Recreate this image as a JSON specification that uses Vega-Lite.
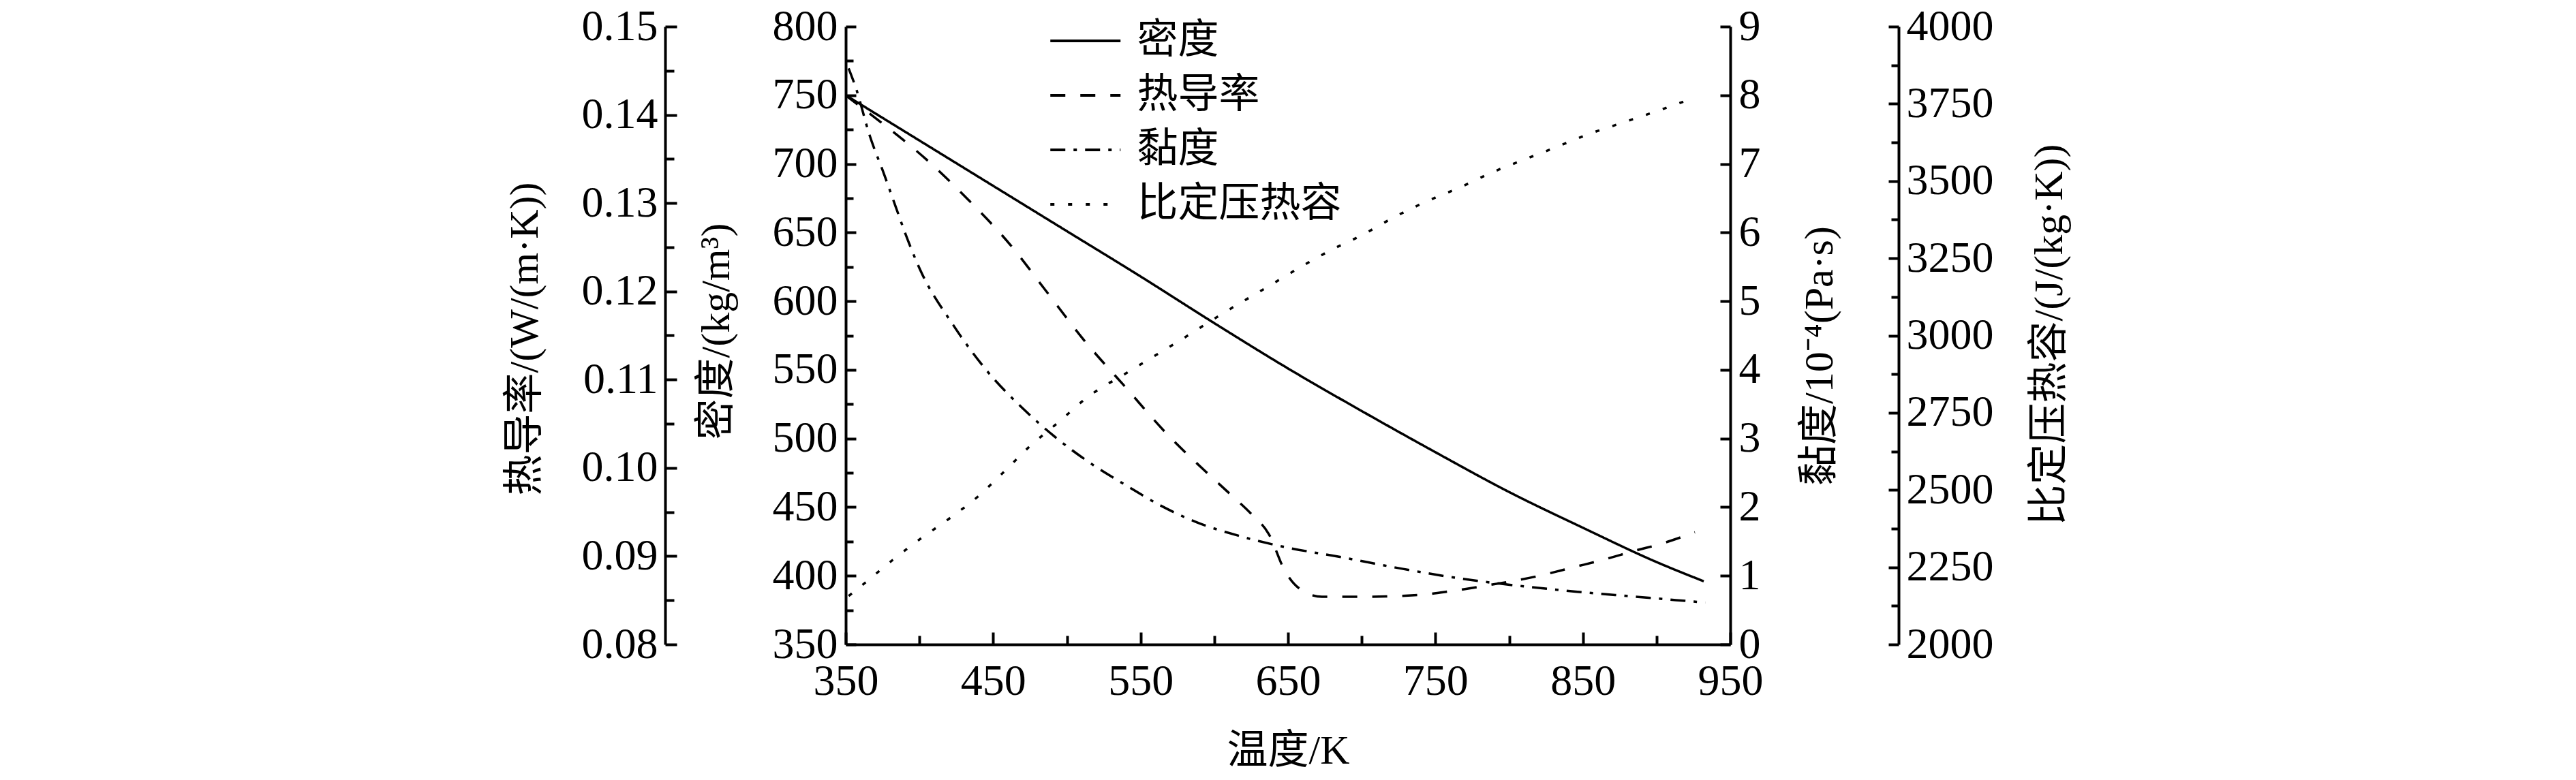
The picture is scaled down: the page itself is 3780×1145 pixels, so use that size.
{
  "$schema": "https://vega.github.io/schema/vega-lite/v6.json",
  "width": 1298,
  "height": 907,
  "autosize": {"type": "none"},
  "padding": {"left": 1241, "top": 39, "right": 1241, "bottom": 199},
  "background": "white",
  "config": {
    "view": {"stroke": null},
    "axis": {
      "grid": false,
      "domainColor": "black",
      "domainWidth": 4,
      "tickColor": "black",
      "tickWidth": 4,
      "labelFont": "Liberation Serif",
      "labelFontSize": 64,
      "labelColor": "black",
      "labelOverlap": false,
      "labelFlush": false,
      "titleFont": "Liberation Serif, Noto Sans CJK SC",
      "titleFontSize": 60,
      "titleFontWeight": "normal",
      "titleColor": "black"
    }
  },
  "data": {
    "values": [
      {"s": "密度", "T": 350, "v": 750},
      {"s": "密度", "T": 400, "v": 717},
      {"s": "密度", "T": 450, "v": 684},
      {"s": "密度", "T": 500, "v": 651},
      {"s": "密度", "T": 550, "v": 618},
      {"s": "密度", "T": 600, "v": 584},
      {"s": "密度", "T": 650, "v": 551},
      {"s": "密度", "T": 700, "v": 520},
      {"s": "密度", "T": 750, "v": 490},
      {"s": "密度", "T": 800, "v": 461},
      {"s": "密度", "T": 850, "v": 435},
      {"s": "密度", "T": 900, "v": 410},
      {"s": "密度", "T": 932, "v": 396},
      {"s": "热导率", "T": 350, "v": 0.1422},
      {"s": "热导率", "T": 372, "v": 0.1394},
      {"s": "热导率", "T": 405, "v": 0.1349},
      {"s": "热导率", "T": 433, "v": 0.1304},
      {"s": "热导率", "T": 462, "v": 0.1252},
      {"s": "热导率", "T": 487, "v": 0.1198},
      {"s": "热导率", "T": 512, "v": 0.1144},
      {"s": "热导率", "T": 540, "v": 0.1091},
      {"s": "热导率", "T": 567, "v": 0.104},
      {"s": "热导率", "T": 596, "v": 0.0993},
      {"s": "热导率", "T": 611, "v": 0.097},
      {"s": "热导率", "T": 625, "v": 0.0948},
      {"s": "热导率", "T": 637, "v": 0.0925},
      {"s": "热导率", "T": 648, "v": 0.0883},
      {"s": "热导率", "T": 658, "v": 0.0863},
      {"s": "热导率", "T": 673, "v": 0.0854},
      {"s": "热导率", "T": 699, "v": 0.0854},
      {"s": "热导率", "T": 738, "v": 0.0856},
      {"s": "热导率", "T": 759, "v": 0.086},
      {"s": "热导率", "T": 782, "v": 0.0866},
      {"s": "热导率", "T": 821, "v": 0.0878},
      {"s": "热导率", "T": 845, "v": 0.0888},
      {"s": "热导率", "T": 864, "v": 0.0896},
      {"s": "热导率", "T": 885, "v": 0.0906},
      {"s": "热导率", "T": 903, "v": 0.0914},
      {"s": "热导率", "T": 926, "v": 0.0927},
      {"s": "黏度", "T": 352, "v": 8.39},
      {"s": "黏度", "T": 357, "v": 8.1},
      {"s": "黏度", "T": 366, "v": 7.43},
      {"s": "黏度", "T": 376, "v": 6.85},
      {"s": "黏度", "T": 384, "v": 6.37},
      {"s": "黏度", "T": 390, "v": 6.01},
      {"s": "黏度", "T": 400, "v": 5.48},
      {"s": "黏度", "T": 423, "v": 4.65},
      {"s": "黏度", "T": 446, "v": 3.98},
      {"s": "黏度", "T": 470, "v": 3.44},
      {"s": "黏度", "T": 491, "v": 3.04},
      {"s": "黏度", "T": 516, "v": 2.64},
      {"s": "黏度", "T": 540, "v": 2.32},
      {"s": "黏度", "T": 563, "v": 2.03},
      {"s": "黏度", "T": 588, "v": 1.78},
      {"s": "黏度", "T": 617, "v": 1.58},
      {"s": "黏度", "T": 641, "v": 1.45},
      {"s": "黏度", "T": 689, "v": 1.26},
      {"s": "黏度", "T": 728, "v": 1.1},
      {"s": "黏度", "T": 767, "v": 0.96},
      {"s": "黏度", "T": 806, "v": 0.855},
      {"s": "黏度", "T": 845, "v": 0.77},
      {"s": "黏度", "T": 883, "v": 0.7},
      {"s": "黏度", "T": 933, "v": 0.61},
      {"s": "比定压热容", "T": 352, "v": 2157},
      {"s": "比定压热容", "T": 363, "v": 2199},
      {"s": "比定压热容", "T": 382, "v": 2274},
      {"s": "比定压热容", "T": 401, "v": 2343},
      {"s": "比定压热容", "T": 421, "v": 2410},
      {"s": "比定压热容", "T": 440, "v": 2480},
      {"s": "比定压热容", "T": 458, "v": 2562},
      {"s": "比定压热容", "T": 475, "v": 2642},
      {"s": "比定压热容", "T": 495, "v": 2722},
      {"s": "比定压热容", "T": 512, "v": 2793},
      {"s": "比定压热容", "T": 543, "v": 2886},
      {"s": "比定压热容", "T": 575, "v": 2979},
      {"s": "比定压热容", "T": 606, "v": 3072},
      {"s": "比定压热容", "T": 637, "v": 3160},
      {"s": "比定压热容", "T": 658, "v": 3220},
      {"s": "比定压热容", "T": 679, "v": 3276},
      {"s": "比定压热容", "T": 701, "v": 3327},
      {"s": "比定压热容", "T": 722, "v": 3383},
      {"s": "比定压热容", "T": 744, "v": 3434},
      {"s": "比定压热容", "T": 767, "v": 3480},
      {"s": "比定压热容", "T": 788, "v": 3527},
      {"s": "比定压热容", "T": 810, "v": 3569},
      {"s": "比定压热容", "T": 832, "v": 3610},
      {"s": "比定压热容", "T": 854, "v": 3652},
      {"s": "比定压热容", "T": 877, "v": 3689},
      {"s": "比定压热容", "T": 900, "v": 3726},
      {"s": "比定压热容", "T": 923, "v": 3765}
    ]
  },
  "encoding": {
    "x": {
      "field": "T",
      "type": "quantitative",
      "scale": {"domain": [350, 950], "nice": false, "zero": false},
      "axis": {
        "title": "温度/K",
        "values": [350, 400, 450, 500, 550, 600, 650, 700, 750, 800, 850, 900, 950],
        "labelExpr": "(datum.value - 350) % 100 === 0 ? datum.label : ''",
        "format": "d",
        "tickSize": {"condition": {"test": "(datum.value - 350) % 100 === 0", "value": -18}, "value": -13},
        "labelPadding": 40,
        "titleX": 649,
        "titleY": 156,
        "titleBaseline": "middle",
        "titleAnchor": "middle",
        "titleAlign": "center"
      }
    },
    "strokeDash": {
      "field": "s",
      "type": "nominal",
      "scale": {
        "domain": ["密度", "热导率", "黏度", "比定压热容"],
        "range": [[1, 0], [22, 22], [22, 12, 5, 12], [6, 20]]
      },
      "legend": {
        "orient": "none",
        "legendX": 321.75,
        "legendY": -9,
        "title": null,
        "symbolType": "M-2,0H2",
        "symbolSize": 2652,
        "symbolStrokeWidth": 4,
        "symbolStrokeColor": "black",
        "labelFont": "Liberation Serif, Noto Sans CJK SC",
        "labelFontSize": 60,
        "labelColor": "black",
        "labelLimit": 0,
        "labelOffset": 45.75,
        "rowPadding": 20,
        "padding": 0
      }
    }
  },
  "layer": [
    {
      "transform": [{"filter": "datum.s === '密度'"}],
      "mark": {"type": "line", "color": "black", "strokeWidth": 3.5, "interpolate": "monotone"},
      "encoding": {
        "y": {
          "field": "v",
          "type": "quantitative",
          "scale": {"domain": [350, 800], "nice": false, "zero": false},
          "axis": {
            "orient": "left",
            "title": "密度/(kg/m³)",
            "values": [350, 375, 400, 425, 450, 475, 500, 525, 550, 575, 600, 625, 650, 675, 700, 725, 750, 775, 800],
            "labelExpr": "datum.value % 50 === 0 ? datum.label : ''",
            "format": "d",
            "tickSize": {"condition": {"test": "datum.value % 50 === 0", "value": -15}, "value": -11},
            "labelPadding": 27,
            "titleX": -190,
            "titleY": 447,
            "titleAngle": -90,
            "titleBaseline": "middle",
            "titleAlign": "center"
          }
        }
      }
    },
    {
      "transform": [{"filter": "datum.s === '热导率'"}],
      "mark": {"type": "line", "color": "black", "strokeWidth": 3.5, "interpolate": "monotone"},
      "encoding": {
        "y": {
          "field": "v",
          "type": "quantitative",
          "scale": {"domain": [0.08, 0.15], "nice": false, "zero": false},
          "axis": {
            "orient": "left",
            "offset": 265,
            "title": "热导率/(W/(m·K))",
            "values": [0.08, 0.085, 0.09, 0.095, 0.1, 0.105, 0.11, 0.115, 0.12, 0.125, 0.13, 0.135, 0.14, 0.145, 0.15],
            "labelExpr": "round(datum.value * 1000) % 10 === 0 ? datum.label : ''",
            "format": ".2f",
            "tickSize": {"condition": {"test": "round(datum.value * 1000) % 10 === 0", "value": -17}, "value": -13},
            "labelPadding": 28,
            "titleX": -206,
            "titleY": 458,
            "titleAngle": -90,
            "titleBaseline": "middle",
            "titleAlign": "center"
          }
        }
      }
    },
    {
      "transform": [{"filter": "datum.s === '黏度'"}],
      "mark": {"type": "line", "color": "black", "strokeWidth": 3.5, "interpolate": "monotone"},
      "encoding": {
        "y": {
          "field": "v",
          "type": "quantitative",
          "scale": {"domain": [0, 9], "nice": false, "zero": false},
          "axis": {
            "orient": "right",
            "title": "黏度/10⁻⁴(Pa·s)",
            "values": [0, 0.5, 1, 1.5, 2, 2.5, 3, 3.5, 4, 4.5, 5, 5.5, 6, 6.5, 7, 7.5, 8, 8.5, 9],
            "labelExpr": "datum.value % 1 === 0 ? datum.label : ''",
            "format": "d",
            "tickSize": {"condition": {"test": "datum.value % 1 === 0", "value": -15}, "value": -11},
            "labelPadding": 27,
            "titleX": 131,
            "titleY": 483,
            "titleAngle": -90,
            "titleBaseline": "middle",
            "titleAlign": "center"
          }
        }
      }
    },
    {
      "transform": [{"filter": "datum.s === '比定压热容'"}],
      "mark": {"type": "line", "color": "black", "strokeWidth": 3.5, "interpolate": "monotone"},
      "encoding": {
        "y": {
          "field": "v",
          "type": "quantitative",
          "scale": {"domain": [2000, 4000], "nice": false, "zero": false},
          "axis": {
            "orient": "right",
            "offset": 247,
            "title": "比定压热容/(J/(kg·K))",
            "values": [2000, 2125, 2250, 2375, 2500, 2625, 2750, 2875, 3000, 3125, 3250, 3375, 3500, 3625, 3750, 3875, 4000],
            "labelExpr": "datum.value % 250 === 0 ? datum.label : ''",
            "format": "d",
            "tickSize": {"condition": {"test": "datum.value % 250 === 0", "value": -15}, "value": -11},
            "labelPadding": 26,
            "titleX": 221,
            "titleY": 452,
            "titleAngle": -90,
            "titleBaseline": "middle",
            "titleAlign": "center"
          }
        }
      }
    }
  ],
  "resolve": {"scale": {"y": "independent"}, "axis": {"y": "independent"}}
}
